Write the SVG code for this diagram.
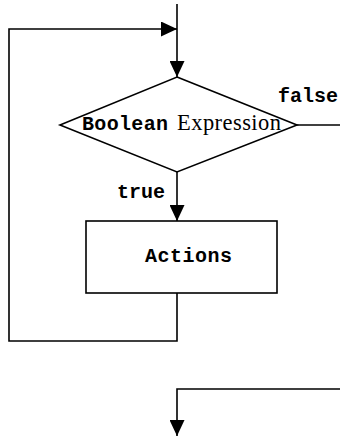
<svg xmlns="http://www.w3.org/2000/svg" width="340" height="438" viewBox="0 0 340 438">
<style>
.ln{fill:none;stroke:#000;stroke-width:1.6}
.shape{fill:#fff;stroke:#000;stroke-width:1.6}
.mono{font-family:"Liberation Mono","Courier New",monospace;font-weight:bold;font-size:20px;fill:#000}
.serif{font-family:"Liberation Serif","Times New Roman",serif;font-size:22.5px;fill:#000}
</style>
<defs>
<marker id="ah" markerWidth="16" markerHeight="15" refX="16" refY="7.5" orient="auto" markerUnits="userSpaceOnUse">
<path d="M0,0 L16,7.5 L0,15 Z" fill="#000"/>
</marker>
</defs>
<g id="connectors">
<path class="ln" d="M177,4 L177,77" marker-end="url(#ah)"/>
<path class="ln" d="M177,293 L177,341 L9,341 L9,29 L177,29" marker-end="url(#ah)"/>
<path class="ln" d="M297,125 L340,125"/>
<path class="ln" d="M177,172 L177,221" marker-end="url(#ah)"/>
<path class="ln" d="M340,389 L177,389 L177,436" marker-end="url(#ah)"/>
<text class="mono" x="278" y="102" textLength="60">false</text>
<text class="mono" x="117" y="198" textLength="48">true</text>
</g>
<g id="decision">
<polygon class="shape" points="177,77 297,125 177,172 60,125"/>
<text class="mono" x="82" y="130" textLength="86">Boolean</text>
<text class="serif" x="177" y="130" textLength="104">Expression</text>
</g>
<g id="actions">
<rect class="shape" x="86" y="221" width="191" height="72"/>
<text class="mono" x="145" y="262" textLength="87">Actions</text>
</g>
</svg>
